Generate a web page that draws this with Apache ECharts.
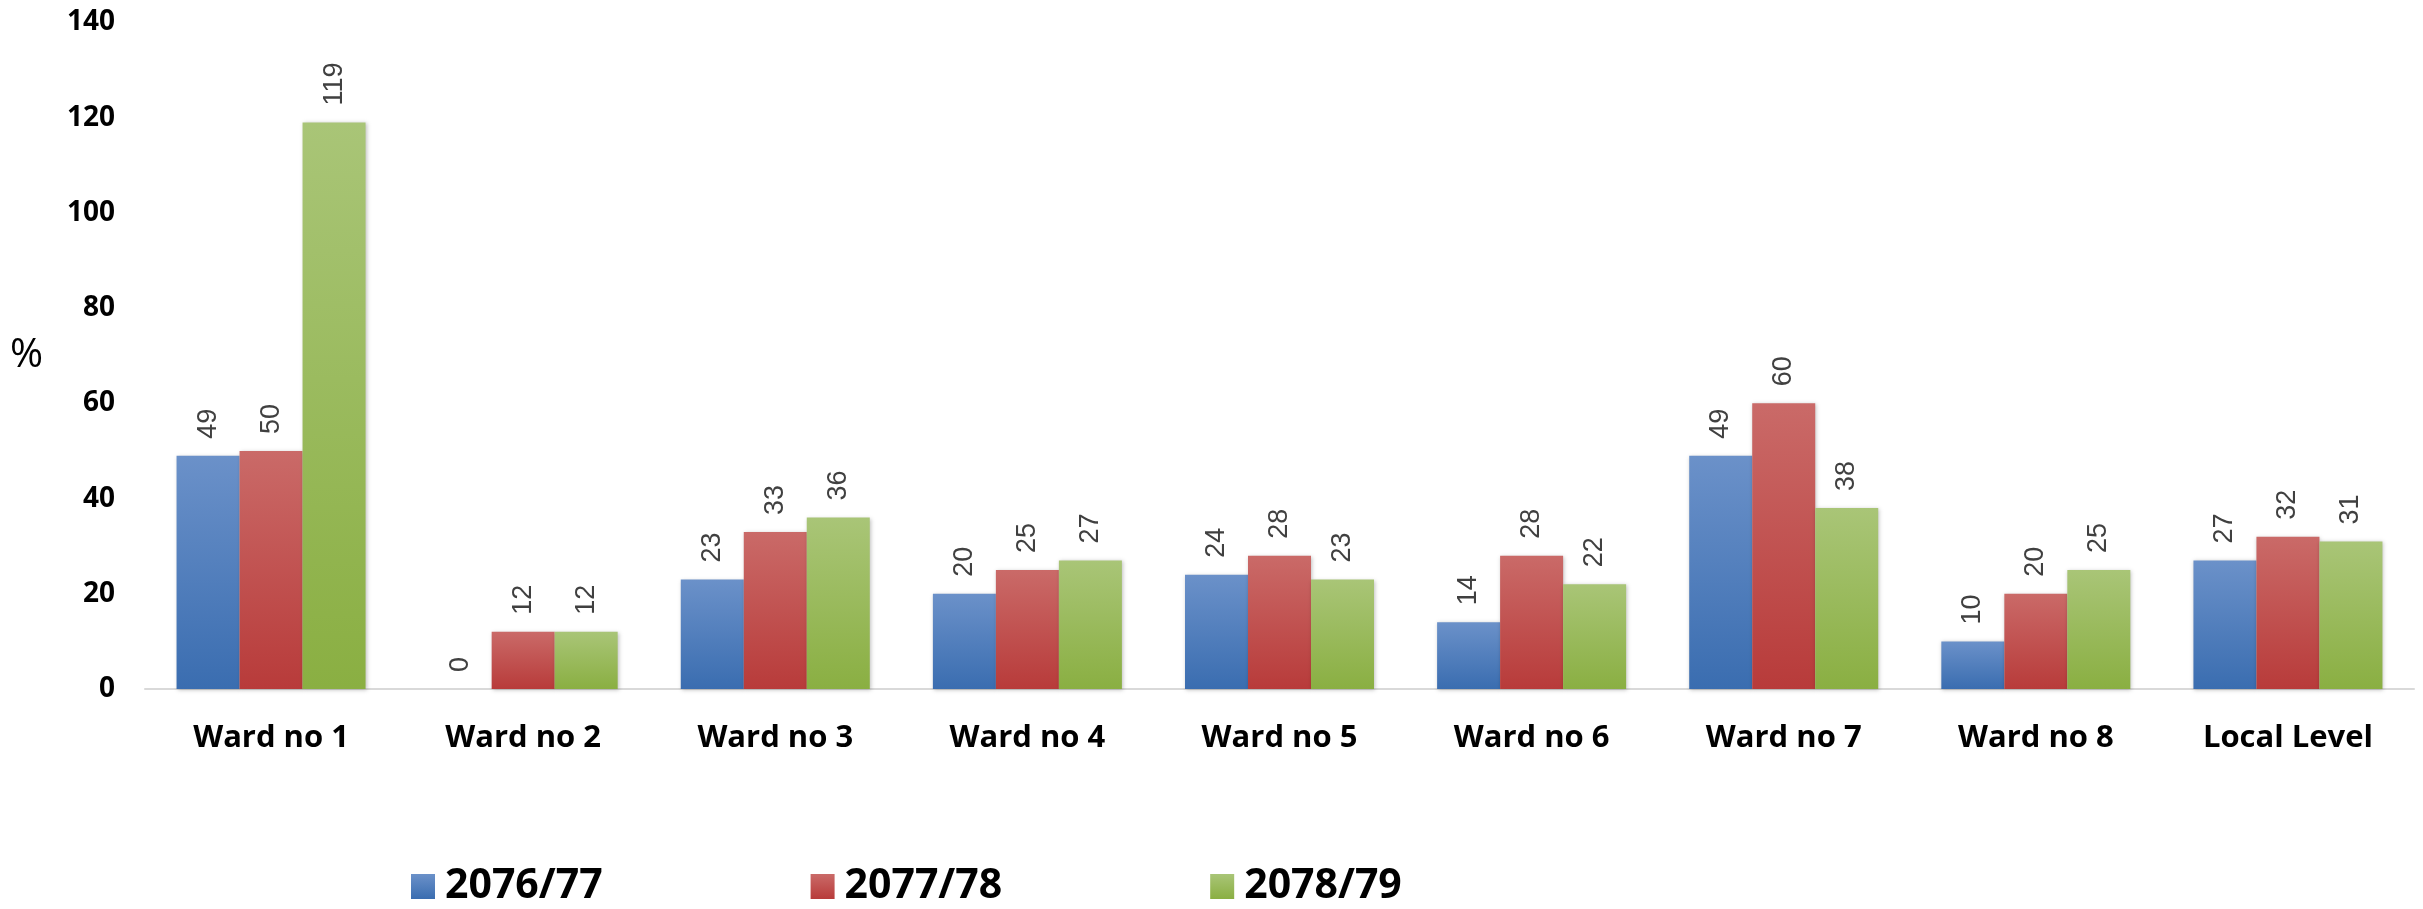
<!DOCTYPE html>
<html>
<head>
<meta charset="utf-8">
<script src="https://cdn.jsdelivr.net/npm/echarts@6/dist/echarts.min.js"></script>
<style>
html,body{margin:0;padding:0;background:#fff;}
#chart{width:2423px;height:909px;}
</style>
</head>
<body>
<div id="chart"></div>
<script>
const categories = ['Ward no 1','Ward no 2','Ward no 3','Ward no 4','Ward no 5','Ward no 6','Ward no 7','Ward no 8','Local Level'];
const seriesNames = ['2076/77','2077/78','2078/79'];
const values2076 = [49, 0, 23, 20, 24, 14, 49, 10, 27];
const values2077 = [50, 12, 33, 25, 28, 28, 60, 20, 32];
const values2078 = [119, 12, 36, 27, 23, 22, 38, 25, 31];
const yTicks = [0, 20, 40, 60, 80, 100, 120, 140];

const gradients = [
  ['#6b91c9', '#3a6db0'],
  ['#ca6a68', '#b83b3a'],
  ['#a9c577', '#8aaf42']
];
function grad(c){
  return new echarts.graphic.LinearGradient(0,0,0,1,[{offset:0,color:c[0]},{offset:1,color:c[1]}]);
}
const allValues = [values2076, values2077, values2078];

const chart = echarts.init(document.getElementById('chart'), null, {renderer:'canvas'});
chart.setOption({
  backgroundColor: '#ffffff',
  animation: false,
  grid: {left: 145, right: 9, top: 22.5, bottom: 220, containLabel: false},
  legend: {
    left: 411,
    top: 866,
    padding: 0,
    itemWidth: 24,
    itemHeight: 25,
    itemGap: 208,
    icon: 'rect',
    data: seriesNames,
    textStyle: {fontFamily: 'Open Sans', fontWeight: 'bold', fontSize: 41, color: '#000', padding: [0,0,0,5], width: 160, overflow: 'none'}
  },
  xAxis: {
    type: 'category',
    data: categories,
    axisLine: {lineStyle: {color: '#d9d9d9', width: 2}},
    axisTick: {show: false},
    axisLabel: {fontFamily: 'Open Sans', fontWeight: 'bold', fontSize: 31, color: '#000', margin: 32, lineHeight: 34, interval: 0}
  },
  yAxis: {
    type: 'value',
    min: yTicks[0],
    max: yTicks[yTicks.length-1],
    interval: 20,
    name: '%',
    nameLocation: 'middle',
    nameRotate: 0,
    nameGap: 102,
    nameTextStyle: {fontFamily: 'Open Sans', fontSize: 40, color: '#000', padding: [0,0,36,0]},
    axisLine: {show: false},
    axisTick: {show: false},
    splitLine: {show: false},
    axisLabel: {fontFamily: 'Open Sans', fontWeight: 'bold', fontSize: 28, color: '#000', margin: 30}
  },
  series: seriesNames.map((name, i) => ({
    name: name,
    type: 'bar',
    data: allValues[i],
    barWidth: 63,
    barGap: '0%',
    itemStyle: {
      color: grad(gradients[i]),
      shadowColor: 'rgba(0,0,0,0.25)',
      shadowBlur: 4,
      shadowOffsetX: 1,
      shadowOffsetY: 1
    },
    label: {
      show: true,
      position: 'top',
      rotate: 90,
      align: 'left',
      verticalAlign: 'middle',
      distance: 17,
      fontFamily: 'Liberation Sans',
      fontSize: 27,
      color: '#404040'
    }
  }))
});
</script>
</body>
</html>
